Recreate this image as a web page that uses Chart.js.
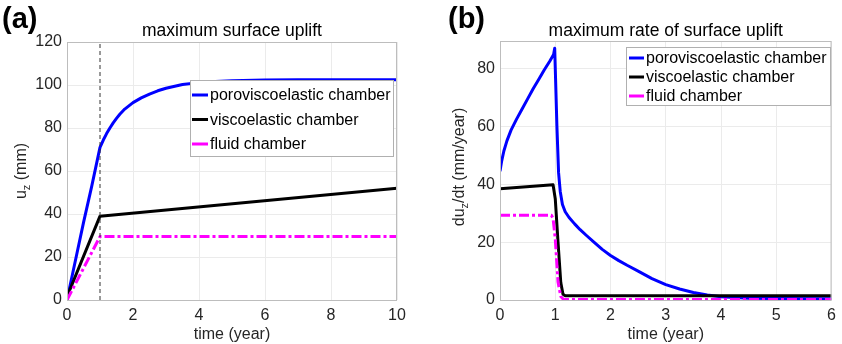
<!DOCTYPE html>
<html>
<head>
<meta charset="utf-8">
<script src="https://cdn.jsdelivr.net/npm/chart.js@4/dist/chart.umd.min.js"></script>
<style>
    html, body { margin: 0; padding: 0; background: #fff; }
    #wrap { position: relative; width: 842px; height: 344px; }
    canvas { position: absolute; top: 0; }
</style>
</head>
<body>
<div id="wrap">
    <canvas id="chartA" width="420" height="344" style="left:0"></canvas>
    <canvas id="chartB" width="421" height="344" style="left:421px"></canvas>
</div>
<script>
// (a) maximum surface uplift, mm
var timePoroA = [0, 0.25, 0.5, 0.75, 1, 1.1, 1.2, 1.3, 1.4, 1.5, 1.6, 1.75, 2, 2.25, 2.5, 2.75, 3, 3.5, 4, 4.5, 5, 6, 7, 8, 10];
var poroA = [0, 18, 36, 53, 71, 74.4, 77.4, 80, 82.4, 84.5, 86.4, 88.8, 91.8, 94, 95.8, 97.3, 98.5, 100.2, 101.1, 101.6, 102, 102.3, 102.4, 102.5, 102.5];
var timeViscoA = [0, 1, 10];
var viscoA = [1.5, 39, 52];
var timeFluidA = [0, 1, 10];
var fluidA = [0, 29.5, 29.5];
var injectionEnd = [1, 1];
var injectionEndY = [0, 120];
var ticksXA = [0, 2, 4, 6, 8, 10];
var ticksYA = [0, 20, 40, 60, 80, 100, 120];

// (b) maximum rate of surface uplift, mm/year
var timePoroB = [0, 0.03, 0.07, 0.125, 0.2, 0.3, 0.4, 0.5, 0.6, 0.7, 0.8, 0.9, 0.97, 0.99, 1.03, 1.06, 1.09, 1.13, 1.18, 1.25, 1.35, 1.45, 1.57, 1.7, 1.85, 2, 2.15, 2.3, 2.5, 2.75, 3, 3.25, 3.5, 3.75, 4, 4.5, 5, 6];
var poroB = [44.5, 48, 51.5, 55, 58.7, 62.5, 66, 69.5, 73, 76.2, 79.5, 82.5, 84.8, 87, 60, 44, 37.5, 33, 30.5, 28.5, 26.3, 24.3, 22.2, 20, 17.5, 15.4, 13.6, 12, 10, 7.4, 5.3, 3.8, 2.6, 1.7, 1.1, 0.6, 0.5, 0.4];
var timeViscoB = [0, 0.96, 1.0, 1.05, 1.1, 1.14, 1.18, 6];
var viscoB = [38.4, 39.8, 35, 20, 6, 2, 1.5, 1.5];
var timeFluidB = [0, 0.93, 0.96, 1.0, 1.05, 1.1, 1.15, 6];
var fluidB = [29.3, 29.3, 28.2, 21.2, 6.2, 1.2, 0.2, 0.2];
var ticksXB = [0, 1, 2, 3, 4, 5, 6];
var ticksYB = [0, 20, 40, 60, 80];

var seriesNames = ['poroviscoelastic chamber', 'viscoelastic chamber', 'fluid chamber'];
var FONT = '"Liberation Sans", Arial, Helvetica, sans-serif';
var INK = '#262626';

function pairs(xs, ys) {
    return xs.map(function(x, i) { return { x: x, y: ys[i] }; });
}

// title, panel letter, y label with subscript, box and legend
var panelDecor = {
    id: 'panelDecor',
    afterDatasetsDraw: function(chart, args, opts) {
        var ctx = chart.ctx;
        var area = chart.chartArea;
        ctx.save();

        ctx.strokeStyle = '#bdbdbd';
        ctx.lineWidth = 1;
        ctx.strokeRect(area.left + 0.5, area.top + 0.5, area.right - area.left - 1, area.bottom - area.top);

        ctx.fillStyle = '#000';
        ctx.textBaseline = 'alphabetic';
        ctx.textAlign = 'center';
        ctx.font = '17.5px ' + FONT;
        ctx.fillText(opts.title, (area.left + area.right) / 2, opts.titleY);

        ctx.textAlign = 'left';
        ctx.textBaseline = 'middle';
        ctx.font = 'bold 29px ' + FONT;
        ctx.fillText(opts.letter, opts.letterX, opts.letterY);

        // rotated y label, parts may be subscript
        ctx.save();
        ctx.translate(opts.yLabelX, opts.yLabelY);
        ctx.rotate(-Math.PI / 2);
        ctx.fillStyle = INK;
        var total = 0;
        opts.yLabel.forEach(function(p) {
            ctx.font = (p.sub ? '11px ' : '16px ') + FONT;
            total += ctx.measureText(p.text).width;
        });
        var x = -total / 2;
        opts.yLabel.forEach(function(p) {
            ctx.font = (p.sub ? '11px ' : '16px ') + FONT;
            ctx.fillText(p.text, x, p.sub ? 5 : 0);
            x += ctx.measureText(p.text).width;
        });
        ctx.restore();

        // legend
        var lg = opts.legend;
        ctx.fillStyle = '#fff';
        ctx.fillRect(lg.x, lg.y, lg.w, lg.h);
        ctx.strokeStyle = '#b0b0b0';
        ctx.strokeRect(lg.x + 0.5, lg.y + 0.5, lg.w, lg.h);
        ctx.font = '16px ' + FONT;
        ctx.textBaseline = 'middle';
        var items = chart.data.datasets.filter(function(d) { return d.inLegend; });
        items.forEach(function(d, i) {
            var y = lg.rows[i];
            ctx.strokeStyle = d.borderColor;
            ctx.lineWidth = 3;
            ctx.setLineDash([]);
            ctx.beginPath();
            ctx.moveTo(lg.lineX0, y);
            ctx.lineTo(lg.lineX1, y);
            ctx.stroke();
            ctx.fillStyle = '#000';
            ctx.fillText(d.label, lg.textX, y + 1);
        });
        ctx.restore();
    }
};

function axisX(min, max, step) {
    return {
        type: 'linear',
        min: min,
        max: max,
        afterFit: function(scale) { scale.height = 44; },
        grid: { color: '#ebebeb', drawTicks: false },
        border: { display: false },
        ticks: { stepSize: step, padding: 6, color: INK, font: { size: 16, family: FONT } },
        title: { display: true, text: 'time (year)', color: INK, padding: { top: 0, bottom: 0 }, font: { size: 16, family: FONT } }
    };
}

function axisY(min, max, step, width) {
    return {
        type: 'linear',
        min: min,
        max: max,
        afterFit: function(scale) { scale.width = width; },
        grid: { color: '#ebebeb', drawTicks: false },
        border: { display: false },
        ticks: { stepSize: step, includeBounds: false, padding: 5, color: INK, font: { size: 16, family: FONT } }
    };
}

function lineSet(label, xs, ys, color, dash, order) {
    return {
        label: label,
        inLegend: true,
        data: pairs(xs, ys),
        borderColor: color,
        borderWidth: 3,
        borderDash: dash,
        borderJoinStyle: 'round',
        pointRadius: 0,
        tension: 0,
        order: order
    };
}

new Chart(document.getElementById('chartA'), {
    type: 'line',
    data: {
        datasets: [
            lineSet(seriesNames[0], timePoroA, poroA, '#0000ff', [], 3),
            lineSet(seriesNames[1], timeViscoA, viscoA, '#000000', [], 2),
            lineSet(seriesNames[2], timeFluidA, fluidA, '#ff00ff', [10, 3, 3, 3], 1),
            {
                label: 'injection end',
                data: pairs(injectionEnd, injectionEndY),
                borderColor: '#333333',
                borderWidth: 1,
                borderDash: [4, 3],
                pointRadius: 0,
                order: 0
            }
        ]
    },
    options: {
        responsive: false,
        animation: false,
        layout: { padding: { top: 42, right: 23, left: 0, bottom: 0 } },
        scales: { x: axisX(ticksXA[0], ticksXA[ticksXA.length - 1], 2), y: axisY(ticksYA[0], ticksYA[ticksYA.length - 1], 20, 67) },
        plugins: {
            legend: { display: false },
            tooltip: { enabled: false },
            panelDecor: {
                title: 'maximum surface uplift',
                titleY: 36,
                letter: '(a)',
                letterX: 2,
                letterY: 20,
                yLabel: [{ text: 'u' }, { text: 'z', sub: true }, { text: ' (mm)' }],
                yLabelX: 22,
                yLabelY: 171,
                legend: { x: 190, y: 80, w: 203, h: 76, rows: [95, 119.5, 144], lineX0: 192, lineX1: 208, textX: 210 }
            }
        }
    },
    plugins: [panelDecor]
});

new Chart(document.getElementById('chartB'), {
    type: 'line',
    data: {
        datasets: [
            lineSet(seriesNames[0], timePoroB, poroB, '#0000ff', [], 3),
            lineSet(seriesNames[1], timeViscoB, viscoB, '#000000', [], 2),
            lineSet(seriesNames[2], timeFluidB, fluidB, '#ff00ff', [10, 3, 3, 3], 1)
        ]
    },
    options: {
        responsive: false,
        animation: false,
        layout: { padding: { top: 41, right: 7, left: 0, bottom: 0 } },
        scales: { x: axisX(ticksXB[0], ticksXB[ticksXB.length - 1], 1), y: axisY(0, 89.5, 20, 79) },
        plugins: {
            legend: { display: false },
            tooltip: { enabled: false },
            panelDecor: {
                title: 'maximum rate of surface uplift',
                titleY: 36,
                letter: '(b)',
                letterX: 27,
                letterY: 20,
                yLabel: [{ text: 'du' }, { text: 'z', sub: true }, { text: '/dt (mm/year)' }],
                yLabelX: 39,
                yLabelY: 167,
                legend: { x: 205, y: 47, w: 204, h: 58, rows: [58, 77, 96], lineX0: 208, lineX1: 223, textX: 225 }
            }
        }
    },
    plugins: [panelDecor]
});
</script>
</body>
</html>
